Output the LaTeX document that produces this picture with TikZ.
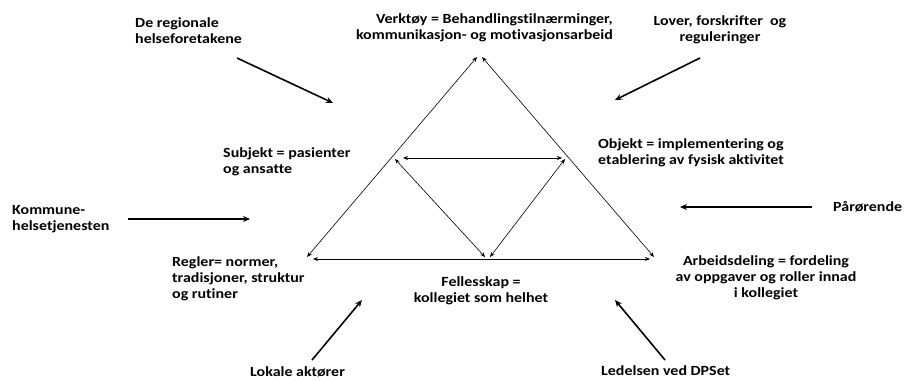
\documentclass[tikz,border=0pt]{standalone}
\usepackage{fontspec}
\setmainfont{Carlito}[FakeStretch=1.14,Ligatures=NoCommon]
\usetikzlibrary{arrows.meta}

\begin{document}
\begin{tikzpicture}[x=1pt,y=-1pt]
	\tikzset{lbl/.style={font=\bfseries\fontsize{14}{16}\selectfont,inner sep=0pt},
		thin arr/.style={line width=0.6pt,{Stealth[length=5pt,width=4pt]}-{Stealth[length=5pt,width=4pt]}},
		thick arr/.style={line width=1.6pt,-{Stealth[length=7pt,width=6pt]}}}
	\useasboundingbox (0,0) rectangle (904,380);
	
	% corners of the triangles
	\coordinate (topL) at (477,57);
	\coordinate (topR) at (482,57);
	\coordinate (botL) at (307,257);
	\coordinate (botR) at (654,257);
	\coordinate (baseL) at (313,259);
	\coordinate (baseR) at (650,259);
	\coordinate (midL) at (395,159);
	\coordinate (midR) at (565,159);
	\coordinate (hL) at (403,158);
	\coordinate (hR) at (562,158);
	\coordinate (lowL) at (485,257);
	\coordinate (lowR) at (490,257);
	
	\draw[thin arr] (botL) -- (topL);
	\draw[thin arr] (topR) -- (botR);
	\draw[thin arr] (baseL) -- (baseR);
	\draw[thin arr] (hL) -- (hR);
	\draw[thin arr] (midL) -- (lowL);
	\draw[thin arr] (midR) -- (lowR);
	
	% labels
	\node[lbl,anchor=north west,align=left] (rhf) at (135,17) {De regionale\\helseforetakene};
	\node[lbl,anchor=north east,align=right] (verk) at (613,13) {Verktøy = Behandlingstilnærminger,\\kommunikasjon- og motivasjonsarbeid};
	\node[lbl,anchor=north,align=center] (lov) at (720,15) {Lover, forskrifter~ og\\reguleringer};
	\node[lbl,anchor=north west,align=left] (subj) at (223,147) {Subjekt = pasienter\\og ansatte};
	\node[lbl,anchor=north west,align=left] (obj) at (598,138) {Objekt = implementering og\\etablering av fysisk aktivitet};
	\node[lbl,anchor=north west,align=left] (komm) at (12,205) {Kommune-\\helsetjenesten};
	\node[lbl,anchor=north west] (paar) at (833,201) {Pårørende};
	\node[lbl,anchor=north west,align=left] (regl) at (172,256) {Regler= normer,\\tradisjoner, struktur\\og rutiner};
	\node[lbl,anchor=north,align=center] (fell) at (481,276) {Fellesskap =\\kollegiet som helhet};
	\node[lbl,anchor=north,align=center] (arb) at (766,255) {Arbeidsdeling = fordeling\\av oppgaver og roller innad\\i kollegiet};
	\node[lbl,anchor=north west] (lok) at (250,366) {Lokale aktører};
	\node[lbl,anchor=north west] (led) at (601,365) {Ledelsen ved DPSet};
	
	% outer influences
	\coordinate (rhfA) at (237,58);   \coordinate (rhfB) at (333,103);
	\coordinate (lovA) at (700,58);   \coordinate (lovB) at (615,100);
	\coordinate (kommA) at (128,219); \coordinate (kommB) at (250,219);
	\coordinate (paarA) at (812,207); \coordinate (paarB) at (680,207);
	\coordinate (lokA) at (312,360);  \coordinate (lokB) at (362,300);
	\coordinate (ledA) at (665,360);  \coordinate (ledB) at (615,300);
	
	\draw[thick arr] (rhfA) -- (rhfB);
	\draw[thick arr] (lovA) -- (lovB);
	\draw[thick arr] (kommA) -- (kommB);
	\draw[thick arr] (paarA) -- (paarB);
	\draw[thick arr] (lokA) -- (lokB);
	\draw[thick arr] (ledA) -- (ledB);
\end{tikzpicture}
\end{document}
